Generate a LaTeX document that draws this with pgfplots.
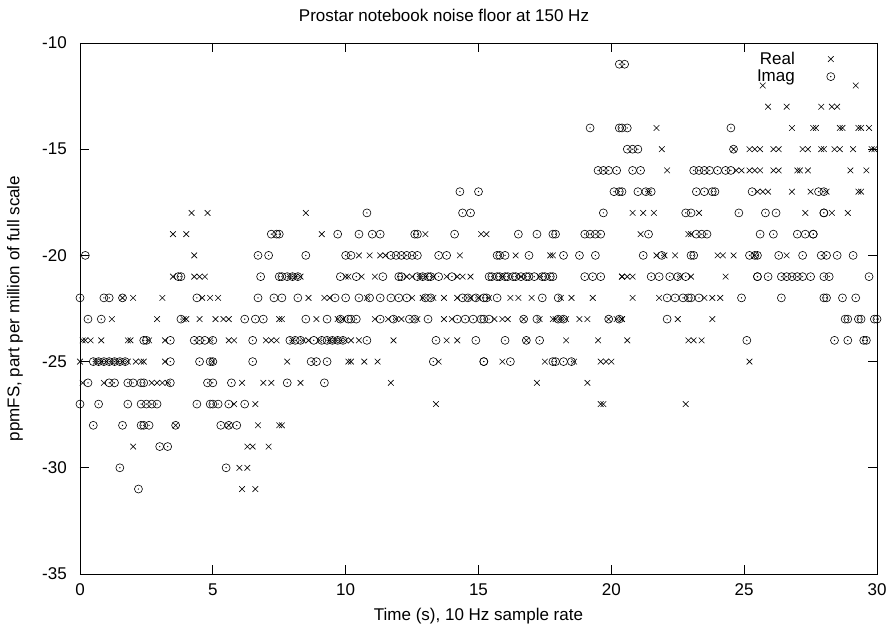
\documentclass[border=0pt]{standalone}
\usepackage{fontspec}
\setmainfont{Liberation Sans}
\usepackage{pgfplots}
\pgfplotsset{compat=1.18}
% gnuplot style circle with a centre dot
\pgfdeclareplotmark{odot}{%
  \pgfpathcircle{\pgfpointorigin}{\pgfplotmarksize}\pgfusepathqstroke
  \pgfpathcircle{\pgfpointorigin}{0.7pt}\pgfusepathqfill}

\begin{document}
\begin{tikzpicture}
\begin{axis}[
    scale only axis,
    width=797pt, height=531pt,
    xmin=0, xmax=30, ymin=-35, ymax=-10,
    xtick={0,5,...,30}, ytick={-35,-30,...,-10},
    tick align=inside, major tick length=9pt,
    font=\fontsize{17}{20}\selectfont,
    /pgf/number format/assume math mode=true,
    axis line style={line width=0.8pt},
    every tick/.style={black, line width=0.8pt},
    xticklabel style={anchor=base, yshift=-22pt},
    yticklabel style={anchor=east, inner sep=0pt, xshift=-13pt},
    title={Prostar notebook noise floor at 150 Hz},
    title style={at={(0.4567,1)}, anchor=base, yshift=15pt},
    xlabel={Time (s), 10 Hz sample rate},
    xlabel style={at={(0.5,0)}, anchor=base, yshift=-47pt},
    ylabel={ppmFS, part per million of full scale},
    ylabel style={at={(0,0.5)}, anchor=center, yshift=65pt},
    legend style={draw=none, fill=none, at={(1,1)}, anchor=north east,
      xshift=-39pt, yshift=-5pt, row sep=0pt, column sep=30pt},
    legend plot pos=right, legend cell align=right,
  ]
  \coordinate (sw) at (rel axis cs:0,0);
  \coordinate (ne) at (rel axis cs:1,1);
  \addplot[only marks, mark=x, mark size=4pt, mark options={line width=0.6pt}] coordinates {
    (1.6,-22)(2.0,-22)(1.2,-23)(0.1,-24)(0.2,-24)(0.4,-24)(0.8,-24)(1.8,-24)(1.9,-24)
    (0.0,-25)(0.6,-25)(0.8,-25)(1.0,-25)(1.2,-25)(1.4,-25)(1.6,-25)(1.8,-25)(2.1,-25)(2.3,-25)
    (0.1,-26)(0.9,-26)(2.0,-29)
    (4.2,-18)(4.8,-18)(3.5,-19)(4.0,-19)(4.3,-20)(3.5,-21)(4.3,-21)(4.5,-21)(4.7,-21)
    (3.1,-22)(4.6,-22)(4.9,-22)(2.9,-23)(3.9,-23)(4.0,-23)(4.5,-23)(2.6,-24)(3.2,-24)(4.9,-24)
    (2.4,-25)(3.2,-25)(5.0,-25)(2.7,-26)(2.9,-26)(3.1,-26)(3.3,-26)(3.6,-28)
    (5.2,-22)(5.1,-23)(5.4,-23)(5.6,-23)(7.5,-23)(5.6,-24)(5.8,-24)(7.0,-24)(7.2,-24)(7.4,-24)
    (6.1,-26)(6.9,-26)(7.2,-26)(5.8,-27)(6.6,-27)(5.6,-28)(6.7,-28)(7.5,-28)(6.3,-29)(6.5,-29)(7.1,-29)
    (6.0,-30)(6.3,-30)(6.1,-31)(6.6,-31)
    (8.5,-18)(9.1,-19)(7.9,-21)(8.1,-21)(8.3,-21)(10.0,-21)(8.6,-22)(9.2,-22)(9.4,-22)
    (7.6,-23)(8.9,-23)(9.7,-23)(9.9,-23)(8.0,-24)(8.4,-24)(8.6,-24)(9.0,-24)(9.4,-24)(9.6,-24)(9.8,-24)(10.0,-24)
    (7.8,-25)(10.1,-25)(8.3,-26)(7.6,-28)
    (10.5,-20)(10.9,-20)(11.3,-20)(11.5,-20)(10.1,-21)(10.6,-21)(11.1,-21)(12.3,-21)(12.5,-21)
    (10.8,-22)(12.5,-22)(11.1,-23)(11.6,-23)(11.9,-23)(12.1,-23)(10.2,-24)(10.5,-24)(11.8,-24)
    (10.2,-25)(10.7,-25)(11.2,-25)(11.7,-26)
    (13.0,-19)(15.1,-19)(14.3,-20)(12.8,-21)(13.0,-21)(13.3,-21)(13.8,-21)(14.2,-21)(14.4,-21)(14.7,-21)
    (12.9,-22)(13.3,-22)(13.7,-22)(14.2,-22)(14.7,-22)(15.0,-22)(12.7,-23)(13.7,-23)(14.0,-23)
    (13.8,-24)(14.2,-24)(13.5,-25)(13.4,-27)
    (15.3,-19)(16.4,-20)(17.7,-20)(15.9,-21)(16.6,-21)(17.3,-21)(15.4,-22)(16.2,-22)(16.5,-22)(17.0,-22)
    (15.6,-23)(15.9,-23)(16.1,-23)(16.7,-23)(17.3,-23)(17.8,-23)(16.8,-24)(15.9,-25)(17.5,-25)(17.2,-26)
    (17.8,-20)(20.4,-21)(18.1,-22)(18.5,-22)(19.3,-22)(17.9,-23)(18.1,-23)(18.3,-23)(18.8,-23)(19.1,-23)
    (19.9,-23)(20.2,-23)(20.4,-23)
    (18.3,-24)(19.5,-24)(18.6,-25)(19.6,-25)(19.8,-25)(20.0,-25)(19.1,-26)(19.6,-27)(19.7,-27)
    (21.7,-14)(21.9,-15)(22.1,-16)(21.4,-17)(20.8,-18)(21.2,-18)(21.6,-18)(21.1,-19)(22.9,-19)
    (21.7,-20)(22.0,-20)(22.4,-20)(20.4,-21)(20.6,-21)(20.8,-21)(22.6,-21)(20.8,-22)(21.8,-22)
    (20.4,-23)(22.5,-23)(20.6,-24)(22.9,-24)(22.8,-27)
    (24.6,-15)(25.2,-15)(25.4,-15)(24.7,-16)(24.9,-16)(25.2,-16)(25.4,-16)(23.3,-18)(23.0,-19)
    (24.0,-20)(24.2,-20)(24.6,-20)(25.4,-20)(23.0,-21)(24.3,-21)(23.5,-22)(23.8,-22)(24.1,-22)
    (23.8,-23)(23.1,-24)(23.4,-24)(25.2,-25)
    (25.7,-12)(25.9,-13)(26.6,-13)(27.9,-13)(26.8,-14)(27.6,-14)(27.7,-14)
    (25.6,-15)(26.1,-15)(26.3,-15)(27.2,-15)(27.4,-15)(27.9,-15)
    (25.6,-16)(26.1,-16)(26.3,-16)(27.0,-16)(27.1,-16)(27.4,-16)
    (25.5,-17)(25.7,-17)(25.9,-17)(26.8,-17)(27.5,-17)(27.3,-18)(26.6,-20)
    (29.2,-12)(28.3,-13)(28.5,-13)(28.6,-14)(28.7,-14)(29.3,-14)(29.4,-14)(29.7,-14)
    (28.0,-15)(28.4,-15)(28.6,-15)(29.1,-15)(29.8,-15)(29.9,-15)(29.0,-16)(29.6,-16)
    (28.1,-17)(29.3,-17)(29.4,-17)(28.3,-18)(28.9,-18)
  };
  \addlegendentry{Real}
  \addplot[only marks, mark=odot, mark size=4pt, mark options={line width=0.6pt}] coordinates {
    (0.2,-20)(0.0,-22)(0.9,-22)(1.1,-22)(1.6,-22)(0.3,-23)(0.8,-23)(2.4,-24)
    (0.5,-25)(0.7,-25)(0.9,-25)(1.1,-25)(1.3,-25)(1.5,-25)(1.7,-25)
    (0.3,-26)(1.1,-26)(1.3,-26)(1.8,-26)(2.0,-26)(2.3,-26)
    (0.0,-27)(0.7,-27)(1.8,-27)(2.3,-27)(0.5,-28)(1.6,-28)(2.3,-28)(1.5,-30)(2.2,-31)
    (3.7,-21)(3.8,-21)(4.4,-22)(3.8,-23)(2.5,-24)(3.4,-24)(4.3,-24)(4.5,-24)(4.7,-24)
    (3.4,-25)(4.5,-25)(4.9,-25)(2.4,-26)(3.4,-26)(4.8,-26)
    (2.5,-27)(2.7,-27)(2.9,-27)(4.4,-27)(4.9,-27)(2.4,-28)(2.6,-28)(3.6,-28)(3.0,-29)(3.3,-29)
    (7.2,-19)(7.4,-19)(6.7,-20)(7.1,-20)(6.8,-21)(7.5,-21)(6.7,-22)(7.3,-22)
    (6.2,-23)(6.6,-23)(6.9,-23)(5.0,-24)(6.5,-24)(5.0,-25)(6.5,-25)(5.0,-26)(5.7,-26)
    (5.0,-27)(5.2,-27)(5.6,-27)(6.2,-27)(5.3,-28)(5.6,-28)(5.9,-28)(5.5,-30)
    (7.5,-19)(9.7,-19)(8.5,-20)(10.0,-20)(7.6,-21)(7.8,-21)(8.0,-21)(8.2,-21)(9.8,-21)
    (7.6,-22)(8.2,-22)(9.6,-22)(10.0,-22)(8.5,-23)(9.3,-23)(9.8,-23)(10.1,-23)
    (7.9,-24)(8.1,-24)(8.3,-24)(8.8,-24)(9.1,-24)(9.3,-24)(9.5,-24)(9.7,-24)(9.9,-24)
    (8.7,-25)(8.9,-25)(9.3,-25)(7.8,-26)(9.2,-26)
    (10.8,-18)(10.5,-19)(11.0,-19)(11.3,-19)(12.6,-19)
    (10.2,-20)(11.7,-20)(11.9,-20)(12.1,-20)(12.3,-20)(12.5,-20)
    (10.4,-21)(11.4,-21)(12.0,-21)(12.1,-21)
    (10.5,-22)(10.9,-22)(11.3,-22)(11.7,-22)(12.0,-22)(12.3,-22)
    (10.2,-23)(10.4,-23)(11.3,-23)(11.8,-23)(12.4,-23)(12.6,-23)(10.8,-24)
    (14.3,-17)(15.0,-17)(14.4,-18)(14.7,-18)(12.7,-19)(14.1,-19)(12.7,-20)(13.5,-20)(13.8,-20)
    (12.7,-21)(12.9,-21)(13.1,-21)(13.2,-21)(13.5,-21)(14.0,-21)
    (13.0,-22)(13.2,-22)(14.4,-22)(14.6,-22)(14.9,-22)(15.2,-22)
    (13.1,-23)(14.2,-23)(14.5,-23)(14.8,-23)(15.1,-23)(13.4,-24)(14.9,-24)(13.3,-25)(15.2,-25)
    (16.5,-19)(17.2,-19)(17.8,-19)(15.7,-20)(15.8,-20)(16.0,-20)(16.9,-20)
    (15.4,-21)(15.5,-21)(15.7,-21)(15.8,-21)(16.0,-21)(16.1,-21)(16.3,-21)(16.4,-21)
    (16.6,-21)(16.8,-21)(16.9,-21)(17.1,-21)(17.4,-21)(17.5,-21)(17.7,-21)
    (15.3,-22)(15.7,-22)(17.4,-22)(15.2,-23)(15.4,-23)(16.7,-23)(17.2,-23)
    (16.0,-24)(16.8,-24)(17.3,-24)(15.2,-25)(16.2,-25)(17.8,-25)
    (20.3,-11)(19.2,-14)(20.3,-14)(19.5,-16)(19.7,-16)(19.9,-16)(20.2,-16)(20.1,-17)(20.4,-17)
    (19.7,-18)(17.9,-19)(19.0,-19)(19.2,-19)(19.4,-19)(19.6,-19)(18.2,-20)(18.8,-20)(19.4,-20)
    (17.8,-21)(19.0,-21)(19.3,-21)(19.6,-21)(18.0,-22)(18.0,-23)(18.2,-23)(19.9,-23)
    (17.9,-25)(18.2,-25)(18.5,-25)
    (20.5,-11)(20.4,-14)(20.6,-14)(20.6,-15)(20.8,-15)(21.0,-15)(20.8,-16)(21.1,-16)
    (20.3,-17)(21.0,-17)(21.3,-17)(21.5,-17)(22.8,-18)(21.4,-19)(21.2,-20)(21.9,-20)(23.0,-20)
    (21.5,-21)(21.8,-21)(22.2,-21)(22.5,-21)(22.8,-21)(22.1,-22)(22.4,-22)(22.7,-22)(22.9,-22)
    (20.3,-23)(22.1,-23)
    (24.5,-14)(24.6,-15)(23.1,-16)(23.3,-16)(23.5,-16)(23.7,-16)(24.0,-16)(24.3,-16)(24.5,-16)
    (23.2,-17)(23.5,-17)(23.8,-17)(23.9,-17)(25.3,-17)(23.0,-18)(24.8,-18)
    (23.2,-19)(23.4,-19)(23.6,-19)(23.1,-20)(25.2,-20)(25.4,-20)(25.5,-21)
    (23.0,-22)(23.3,-22)(24.9,-22)(25.1,-24)
    (28.0,-17)(25.8,-18)(26.2,-18)(28.0,-18)(25.6,-19)(26.1,-19)(27.0,-19)(27.3,-19)(27.6,-19)
    (25.5,-20)(26.3,-20)(27.2,-20)(27.9,-20)
    (25.5,-21)(25.9,-21)(26.4,-21)(26.6,-21)(26.8,-21)(27.0,-21)(27.2,-21)(27.5,-21)(28.0,-21)
    (26.4,-22)(28.0,-22)
    (27.8,-17)(28.0,-18)(27.6,-19)(28.1,-20)(28.5,-20)(29.1,-20)(28.2,-21)(29.7,-21)
    (28.1,-22)(28.7,-22)(29.2,-22)(28.8,-23)(28.9,-23)(29.3,-23)(29.4,-23)(29.9,-23)(30.0,-23)
    (28.4,-24)(28.9,-24)(29.5,-24)(29.6,-24)
  };
  \addlegendentry{Imag}
\end{axis}
\pgfresetboundingbox
\path ([shift={(-80pt,-52pt)}]sw) rectangle ([shift={(12pt,43pt)}]ne);
\end{tikzpicture}
\end{document}
